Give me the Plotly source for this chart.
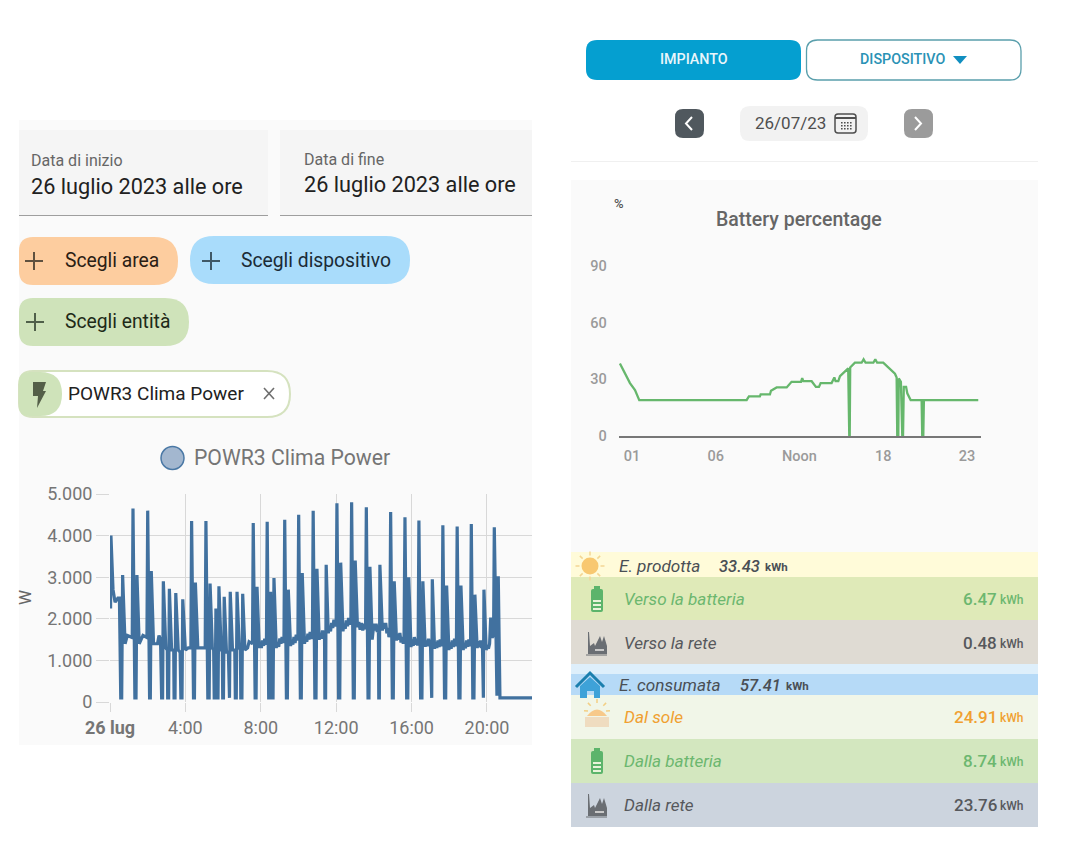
import plotly.graph_objects as go

# ---------- data ----------
POWER_HOURS = [
 0.03,0.05,0.16,0.27,0.42,0.50,0.57,0.62,0.67,0.80,0.92,1.18,
 1.22,1.32,1.38,1.43,1.55,1.75,1.96,2.00,2.10,2.14,2.19,2.31,2.52,2.60,2.68,
 2.74,2.79,2.83,2.96,3.04,3.06,3.11,3.15,3.27,3.38,3.40,3.45,3.49,3.62,3.72,
 3.76,3.82,3.86,4.00,4.15,4.29,4.33,4.43,4.48,4.53,4.66,5.05,5.09,5.19,5.26,5.31,5.43,5.50,
 5.53,5.58,5.62,5.66,5.73,5.78,5.90,5.96,5.98,6.02,6.06,6.18,6.28,6.30,6.34,6.38,6.50,6.62,
 6.65,6.70,6.74,6.86,6.92,6.94,7.00,7.04,7.16,7.30,7.38,7.56,
 7.60,7.70,7.75,7.80,
 7.92,7.98,8.03,8.09,8.15,8.21,8.27,8.30,
 8.34,8.42,8.47,8.52,8.58,8.65,8.70,
 8.82,8.88,8.95,9.01,9.07,9.13,9.18,9.23,
 9.27,9.36,9.41,9.46,
 9.58,9.64,9.70,9.76,9.82,9.88,9.93,9.97,
 10.01,10.10,10.15,10.20,
 10.32,10.38,10.44,10.50,10.56,10.62,10.68,10.74,
 10.78,10.87,10.93,10.98,
 11.10,11.16,11.22,11.28,11.34,11.38,
 11.40,11.44,11.47,
 11.58,11.64,11.70,11.76,11.82,11.88,11.94,12.00,
 12.04,12.13,12.19,12.24,
 12.36,12.42,12.48,12.54,12.60,12.66,12.72,12.78,
 12.82,12.91,12.96,13.01,
 13.13,13.20,13.27,13.34,13.41,13.48,13.56,
 13.60,13.69,13.74,13.79,
 13.91,14.00,14.06,14.12,14.18,14.24,
 14.26,14.29,14.32,
 14.45,14.51,14.57,14.63,14.69,14.75,14.80,14.85,
 14.89,14.98,15.03,15.08,
 15.20,15.26,15.32,15.38,15.44,15.50,15.56,15.60,
 15.65,15.74,15.80,15.85,
 15.97,16.03,16.09,16.15,16.21,16.27,16.32,16.35,
 16.39,16.48,16.55,16.60,
 16.72,16.78,16.84,16.90,16.96,17.00,
 17.03,17.07,17.10,
 17.22,17.28,17.34,17.40,17.46,17.52,17.58,17.62,
 17.66,17.75,17.81,17.86,
 17.98,18.04,18.10,18.16,18.22,18.28,18.34,18.38,
 18.42,18.51,18.57,18.62,
 18.74,18.80,18.86,18.92,18.98,19.04,19.10,19.13,
 19.17,19.25,19.31,19.36,
 19.48,19.54,19.60,19.66,19.72,19.76,
 19.78,19.81,19.84,
 19.96,20.02,20.08,20.14,20.20,20.27,20.35,
 20.39,20.50,20.53,20.60,20.69,22.40]
POWER_WATTS = [
 2250,4000,2700,2400,2500,2500,100,100,3050,1400,1600,1550,
 4650,100,100,3050,1400,1600,1550,4600,100,100,3150,1400,1400,1600,1500,
 100,100,2900,1300,1250,100,100,2720,1250,1250,100,100,2620,1250,1200,
 100,100,2470,1250,1300,1300,4350,100,100,2870,1300,1300,4350,100,100,2850,1300,1250,
 100,100,2250,100,100,2780,1250,1250,100,100,2530,1200,1200,100,100,2650,1250,1250,
 100,100,2650,1300,1250,100,100,2600,1250,1300,1450,1400,
 4300,100,100,2770,
 1300,1420,1300,1480,1350,1520,1380,1480,
 4330,100,100,2650,100,100,2980,
 1300,1400,1330,1530,1400,1560,1420,1500,
 4380,100,100,2700,
 1350,1480,1380,1560,1420,1620,1480,1580,
 4500,100,100,3100,
 1400,1560,1450,1640,1500,1680,1520,1620,
 4600,100,100,3200,
 1500,1640,1520,1720,1580,1680,
 100,100,3300,
 1650,1820,1700,1900,1780,1980,1820,1920,
 4780,100,100,3350,
 1700,1880,1760,1960,1820,2020,1860,1960,
 4800,100,100,3400,
 1800,1920,1740,1900,1720,1880,1750,
 4680,100,100,3250,
 1500,1880,1720,1880,1680,1780,
 100,100,3300,
 1720,1900,1760,1900,1650,1780,1560,1680,
 4570,100,100,2900,
 1480,1640,1500,1660,1430,1560,1400,1520,
 4440,100,100,3000,
 1320,1500,1350,1560,1380,1520,1360,1480,
 4360,100,100,2900,
 1330,1480,1340,1520,1350,1450,
 100,100,2950,
 1280,1440,1300,1480,1320,1500,1340,1450,
 4250,100,100,2800,
 1250,1430,1280,1480,1320,1520,1340,1460,
 4220,100,100,2800,
 1250,1420,1290,1480,1330,1500,1340,1450,
 4280,100,100,2580,
 1300,1460,1320,1480,1300,1400,
 100,100,2700,
 1250,1360,1280,1400,2030,1550,1600,
 4200,400,150,3020,100,100]
POWER_X_TICKS = [0,4,8,12,16,20]
POWER_X_LABELS = ["<b>26 lug</b>","4:00","8:00","12:00","16:00","20:00"]
POWER_Y_TICKS = [0,1000,2000,3000,4000,5000]
POWER_Y_LABELS = ["0","1.000","2.000","3.000","4.000","5.000"]

BATT_HOURS = [0.21,0.54,0.87,1.20,1.48,8.53,8.68,9.40,9.45,10.06,10.13,10.50,11.16,11.48,12.10,12.18,12.25,
 12.80,13.08,13.28,13.39,14.11,14.29,14.37,14.55,14.66,15.20,15.27,15.30,15.33,15.64,16.08,16.21,16.34,
 16.85,16.98,17.10,17.50,17.94,18.27,18.38,18.42,18.49,18.52,18.66,18.75,18.80,18.85,19.00,19.08,19.30,
 20.02,20.06,20.13,20.17,23.74]
BATT_PCT = [38.4,33,28,24.3,19,19,21,21,22,22,24,25.7,25.7,28.7,28.7,30.7,29,
 29,26,26,28,28,31,29,29,31.7,35.8,0,0,36.3,38.8,38.8,40.6,38.8,
 38.8,40.6,38.8,38.8,35.3,33,31,0,0,30.5,28.7,0,0,26,26,22.6,19,
 19,0,0,19,19]
BATT_X_TICKS = [1,6.5,12,17.5,23]
BATT_X_LABELS = ["01","06","Noon","18","23"]
BATT_Y_TICKS = [0,30,60,90]
BATT_Y_LABELS = ["0","30","60","90"]

# ---------- page geometry helpers (pixels -> paper) ----------
W, H = 1080, 864
FONT = "Roboto"
def X(x): return x / W
def Y(y): return 1 - y / H

shapes, notes = [], []

def rect(x0, y0, x1, y1, fill, line=None, lw=1):
    shapes.append(dict(type="rect", xref="paper", yref="paper", x0=X(x0), x1=X(x1), y0=Y(y1), y1=Y(y0),
                       fillcolor=fill, line=dict(color=line or fill, width=lw if line else 0), layer="below"))

def rrect(x0, y0, x1, y1, r, fill, line=None, lw=1, rl=None):
    rl = r if rl is None else rl
    p = (f"M {X(x0+rl)} {Y(y0)} L {X(x1-r)} {Y(y0)} Q {X(x1)} {Y(y0)} {X(x1)} {Y(y0+r)} "
         f"L {X(x1)} {Y(y1-r)} Q {X(x1)} {Y(y1)} {X(x1-r)} {Y(y1)} L {X(x0+rl)} {Y(y1)} "
         f"Q {X(x0)} {Y(y1)} {X(x0)} {Y(y1-rl)} L {X(x0)} {Y(y0+rl)} Q {X(x0)} {Y(y0)} {X(x0+rl)} {Y(y0)} Z")
    shapes.append(dict(type="path", xref="paper", yref="paper", path=p, fillcolor=fill,
                       line=dict(color=line or fill, width=lw if line else 0), layer="below"))

def poly(points, fill=None, line=None, lw=1, close=True):
    p = "M " + " L ".join(f"{X(a)} {Y(b)}" for a, b in points) + (" Z" if close else "")
    shapes.append(dict(type="path", xref="paper", yref="paper", path=p,
                       fillcolor=fill if fill else "rgba(0,0,0,0)",
                       line=dict(color=line or "rgba(0,0,0,0)", width=lw if line else 0), layer="below"))

def circle(cx, cy, r, fill, line=None, lw=1):
    shapes.append(dict(type="circle", xref="paper", yref="paper", x0=X(cx-r), x1=X(cx+r), y0=Y(cy+r), y1=Y(cy-r),
                       fillcolor=fill, line=dict(color=line or fill, width=lw if line else 0), layer="below"))

def text(x, y, s, size, color, anchor="left", angle=0, weight=400, style="normal"):
    notes.append(dict(xref="paper", yref="paper", x=X(x), y=Y(y), text=s, showarrow=False, xanchor=anchor,
                      yanchor="middle", textangle=angle, borderpad=0, borderwidth=0,
                      font=dict(family=FONT, size=size, color=color, weight=weight, style=style)))

def plus(cx, cy, col):
    poly([(cx-9, cy), (cx+9, cy)], line=col, lw=2, close=False)
    poly([(cx, cy-9), (cx, cy+9)], line=col, lw=2, close=False)

def battery(cx, cy, col):
    rrect(cx-6, cy-10, cx+6, cy+13, 2, col)
    rect(cx-3, cy-13, cx+3, cy-10, col)
    for dy in (2, 6, 10):
        rect(cx-4, cy+dy-1, cx+4, cy+dy+1, "#e8f3da")

def factory(cx, cy, col):
    poly([(cx-9, cy+10), (cx-9, cy-12), (cx-8, cy-12), (cx-7, cy+2), (cx-3, cy-1), (cx-2, cy+2),
          (cx+3, cy-8), (cx+5, cy-2), (cx+7, cy-8), (cx+10, cy+2), (cx+10, cy+10)], fill=col)
    poly([(cx-11, cy+11), (cx+10, cy+11)], line=col, lw=1, close=False)
    rect(cx-2, cy+5, cx+7, cy+7, "#c9c9c9")

def rays(cx, cy, r0, r1, col, dirs):
    for dx, dy in dirs:
        poly([(cx+dx*r0, cy+dy*r0), (cx+dx*r1, cy+dy*r1)], line=col, lw=1.5, close=False)

# ---------- left screenshot ----------
rect(19, 120, 532, 745, "#fafafa")
rect(19, 130, 268, 215, "#f5f5f5"); rect(19, 215, 268, 216, "#9e9e9e")
rect(280, 130, 532, 215, "#f5f5f5"); rect(280, 215, 532, 216, "#9e9e9e")
text(31, 161, "Data di inizio", 16, "#666666")
text(31, 186, "26 luglio 2023 alle ore", 21.7, "#212121")
text(304, 160, "Data di fine", 16, "#666666")
text(304, 185, "26 luglio 2023 alle ore", 21.7, "#212121")

rrect(19, 237, 178, 285, 24, "#fdcd9f", rl=14)
plus(34, 261, "#5f513f"); text(65, 260, "Scegli area", 19.3, "#2b2014")
rrect(190, 236, 410, 284, 24, "#a9dcfb")
plus(211, 261, "#3f5866"); text(241, 260, "Scegli dispositivo", 19.3, "#1b2b36")
rrect(19, 298, 189, 346, 24, "#cfe3ba", rl=14)
plus(35, 322, "#50604a"); text(65, 321, "Scegli entità", 19.3, "#1e2a18")

rrect(19, 371, 290, 417, 23, "#ffffff", line="#d5e2bf", lw=2, rl=14)
rrect(19, 372, 62, 416, 22, "#cfe3ba", rl=10)
poly([(33, 382), (46, 382), (43, 391), (46, 391), (37, 408), (38, 396), (33, 396)], fill="#545f48")
text(68, 393, "POWR3 Clima Power", 19, "#212121")
poly([(264, 388), (274, 399)], line="#6e6e6e", lw=1.6, close=False)
poly([(274, 388), (264, 399)], line="#6e6e6e", lw=1.6, close=False)

circle(172.5, 458, 11.5, "#a3b7cf", line="#4a78a5", lw=1.5)
text(194, 457, "POWR3 Clima Power", 21.2, "#757575")
text(25, 598, "W", 17, "#666666", anchor="center", angle=-90)

# ---------- right screenshot: header ----------
rrect(586, 40, 801, 80, 11, "#059fd0")
text(693.5, 59.5, "IMPIANTO", 14.3, "#e9f6fb", anchor="center", weight=500)
rrect(806.5, 40, 1021, 80, 11, "#ffffff", line="#5a9fac", lw=1.3)
text(902.5, 59.5, "DISPOSITIVO", 14.3, "#2a92b5", anchor="center", weight=500)
poly([(953, 56), (967, 56), (960, 64)], fill="#118fc0")

rrect(675, 109, 704, 138, 8, "#50585e")
poly([(692, 117), (686, 123.5), (692, 130)], line="#ffffff", lw=2, close=False)
rrect(740, 106, 868, 141, 10, "#f2f2f2")
text(790.5, 123, "26/07/23", 17, "#4f4f4f", anchor="center")
rrect(835, 114, 856, 133, 3, "#f2f2f2", line="#4f4f4f", lw=1.5)
rect(835, 117, 856, 119, "#4f4f4f")
for yy in (122, 125, 128):
    for xx in (841, 844, 847, 850):
        rect(xx, yy, xx+1.6, yy+1.6, "#4f4f4f")
rrect(904, 109, 933, 138, 8, "#9b9b9b")
poly([(915, 117), (921, 123.5), (915, 130)], line="#ffffff", lw=2, close=False)
rect(571, 161, 1038, 162, "#f0f0f0")

# ---------- right screenshot: chart panel and energy table ----------
rect(571, 180, 1038, 552, "#fafafa")
text(618.5, 203, "%", 13, "#555555", anchor="center", weight=500)
text(799, 219, "Battery percentage", 19.5, "#666666", anchor="center", weight=500)

bands = [(552, 577, "#fffbd9"), (577, 620, "#dfeab8"), (620, 664, "#dfdbd3"), (664, 674, "#deeffb"),
         (674, 695, "#b6daf7"), (695, 739, "#f1f6e8"), (739, 783, "#d3e7bf"), (783, 827, "#ccd4de")]
for y0, y1, c in bands:
    rect(571, y0, 1038, y1, c)

DARK, GREEN, ORANGE = "#4a4f55", "#6cb76f", "#f0a030"
def headline(y, label, lx, value, vx, ux):
    text(lx, y, label, 17.2, DARK, style="italic")
    text(vx, y, value, 16.5, DARK, weight=500, style="italic")
    text(ux, y+1, "kWh", 11.5, DARK, weight=700)
def row(y, label, value, col):
    text(624, y, label, 17.1, col, style="italic")
    text(997, y, value, 17, col, anchor="right", weight=500)
    text(1000, y+0.5, "kWh", 12, col, weight=500)

headline(566, "E. prodotta", 619, "33.43", 719, 765)
row(599, "Verso la batteria", "6.47", GREEN)
row(643, "Verso la rete", "0.48", "#56585c")
headline(685, "E. consumata", 619, "57.41", 740, 786)
row(717, "Dal sole", "24.91", ORANGE)
row(761, "Dalla batteria", "8.74", GREEN)
row(805, "Dalla rete", "23.76", "#56585c")

# icons
circle(590, 566, 8.5, "#f8c870")
rays(590, 566, 10.5, 14.5, "#f3d694", [(1,0),(-1,0),(0,1),(0,-1),(.7,.7),(-.7,.7),(.7,-.7),(-.7,-.7)])
battery(597, 599, "#5cb46b"); battery(597, 761, "#5cb46b")
factory(597, 644, "#6a6e73"); factory(597, 806, "#6a6e73")
poly([(580, 686), (590, 677), (600, 686), (600, 698), (594, 698), (594, 691), (587, 691), (587, 698), (580, 698)],
     fill="#3ea2d8")
poly([(576, 687), (590, 673), (604, 687)], line="#1b7fae", lw=3, close=False)
shapes.append(dict(type="path", xref="paper", yref="paper", layer="below", fillcolor="#f7c98a",
                   line=dict(width=0), path=f"M {X(587)} {Y(716)} Q {X(597)} {Y(703)} {X(607)} {Y(716)} Z"))
rect(585, 717, 609, 727, "#efdcc0")
rays(597, 712, 9, 13, "#f3cf84", [(0,-1),(.7,-.7),(-.7,-.7),(1,-.1),(-1,-.1)])

# ---------- the two charts ----------
fig = go.Figure()
fig.add_trace(go.Scatter(x=POWER_HOURS, y=POWER_WATTS, mode="lines", xaxis="x", yaxis="y",
                         line=dict(color="#41719f", width=3.2, shape="linear"), showlegend=False, hoverinfo="skip"))
fig.add_trace(go.Scatter(x=BATT_HOURS, y=BATT_PCT, mode="lines", xaxis="x2", yaxis="y2",
                         line=dict(color="#66b76c", width=2.3, shape="linear"), showlegend=False, hoverinfo="skip"))

fig.update_layout(
    width=W, height=H, margin=dict(l=0, r=0, t=0, b=0, autoexpand=False), autosize=False,
    paper_bgcolor="#ffffff", plot_bgcolor="rgba(0,0,0,0)", showlegend=False,
    font=dict(family=FONT), shapes=shapes, annotations=notes,
    xaxis=dict(domain=[X(110), X(532)], range=[0, 22.39], anchor="y", automargin=False,
               tickvals=POWER_X_TICKS, ticktext=POWER_X_LABELS, tickfont=dict(size=18, color="#757575", family=FONT),
               showgrid=True, gridcolor="#d8d8d8", gridwidth=1, zeroline=False, showline=False,
               ticks="outside", ticklen=9, tickcolor="#d8d8d8", tickangle=0),
    yaxis=dict(domain=[Y(702), Y(494)], range=[0, 5000], anchor="x", automargin=False,
               tickvals=POWER_Y_TICKS, ticktext=POWER_Y_LABELS, tickfont=dict(size=18, color="#757575", family=FONT),
               showgrid=True, gridcolor="#d8d8d8", gridwidth=1, zeroline=False, showline=False,
               ticks="outside", ticklen=13, tickcolor="#d8d8d8"),
    xaxis2=dict(domain=[X(618.7), X(980.7)], range=[0.13, 23.9], anchor="y2", automargin=False,
                tickvals=BATT_X_TICKS, ticktext=BATT_X_LABELS, tickfont=dict(size=14.5, color="#9a9a9a", family=FONT, weight=500),
                showgrid=False, zeroline=False, showline=True, linecolor="#777777", linewidth=1.5,
                ticks="outside", ticklen=6, tickcolor="rgba(0,0,0,0)"),
    yaxis2=dict(domain=[Y(436), Y(266)], range=[0, 90], anchor="x2", automargin=False,
                tickvals=BATT_Y_TICKS, ticktext=BATT_Y_LABELS, tickfont=dict(size=14.5, color="#9a9a9a", family=FONT, weight=500),
                showgrid=False, zeroline=False, showline=False,
                ticks="outside", ticklen=8, tickcolor="rgba(0,0,0,0)"),
)

fig.write_html("out.html", config={"displayModeBar": False},
               post_script="document.body.style.margin='0';document.documentElement.style.overflow='hidden';")
